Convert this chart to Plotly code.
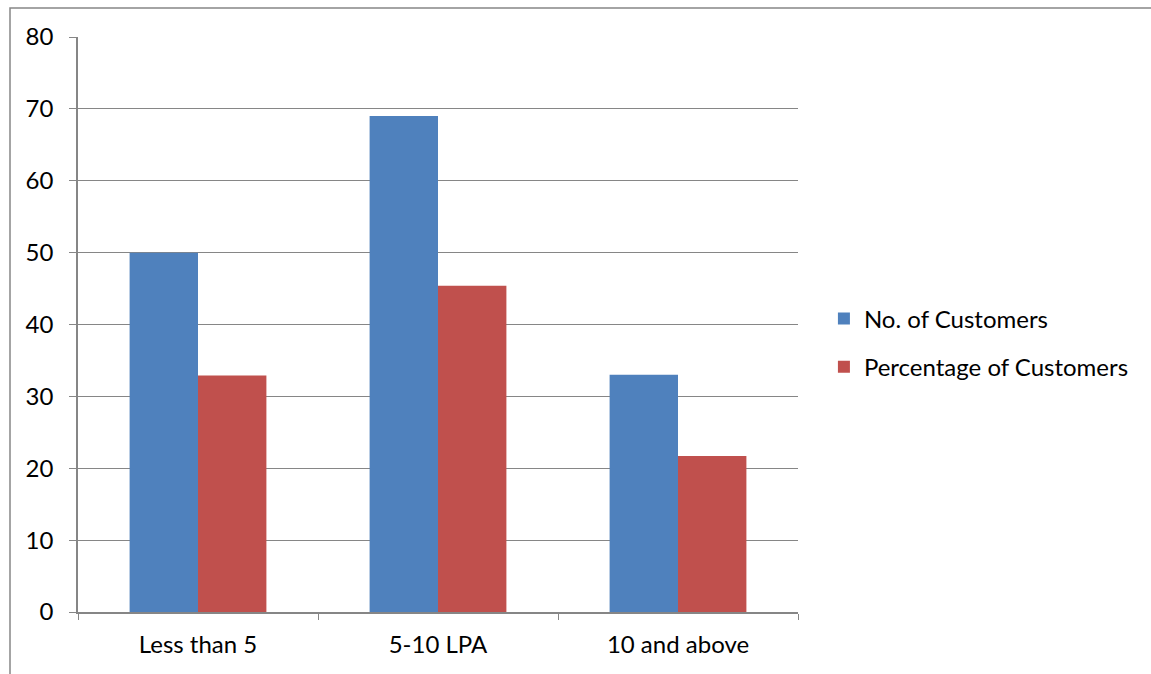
import plotly.graph_objects as go

categories = ["Less than 5", "5-10 LPA", "10 and above"]
customers = [50, 69, 33]
percentage = [32.89, 45.39, 21.71]

W, H = 1151, 674
L, R, T, B = 78, 353, 37, 62
plot_w = W - L - R
plot_h = H - T - B

grid = "#868686"
font = dict(family="Lato, Calibri, sans-serif", size=24, color="#000000")

fig = go.Figure()
fig.add_trace(go.Bar(x=categories, y=customers, name="No. of Customers",
                     marker=dict(color="#4F81BD", line=dict(width=0)),
                     legendgroup="a"))
fig.add_trace(go.Bar(x=categories, y=percentage, name="Percentage of Customers",
                     marker=dict(color="#C0504D", line=dict(width=0)),
                     legendgroup="b"))

# outer chart frame (left and top edges visible)
fx = (10 - L) / plot_w
fy = 1 + (T - 8) / plot_h
fig.add_shape(type="path", xref="paper", yref="paper",
              path=f"M {fx} -0.2 L {fx} {fy} L 1.6 {fy}",
              line=dict(color=grid, width=1.5))

fig.update_layout(
    width=W, height=H,
    margin=dict(l=L, r=R, t=T, b=B, pad=0),
    paper_bgcolor="white", plot_bgcolor="white",
    barmode="group", bargap=0.43, bargroupgap=0,
    font=font,
    showlegend=True,
    legend=dict(x=1.036, xanchor="left", y=0.468, yanchor="middle",
                traceorder="grouped", tracegroupgap=14,
                font=dict(size=24), bgcolor="rgba(0,0,0,0)",
                itemwidth=30),
)
fig.update_yaxes(range=[0, 80], dtick=10, showgrid=True, gridcolor=grid,
                 gridwidth=1.3, showline=True, linecolor=grid, linewidth=1.5,
                 ticks="outside", ticklen=7, tickcolor=grid, tickwidth=1.3,
                 zeroline=False, tickfont=dict(size=24), ticklabelstandoff=11)
fig.update_xaxes(type="category", tickson="boundaries", showgrid=False,
                 showline=True, linecolor=grid, linewidth=1.5,
                 ticks="outside", ticklen=6, tickcolor=grid, tickwidth=1.3,
                 tickfont=dict(size=24), ticklabelstandoff=10)

fig.write_html("out.html")
